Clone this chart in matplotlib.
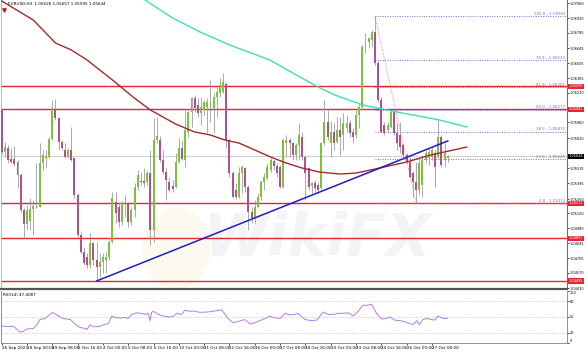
import numpy as np
import matplotlib.pyplot as plt
from matplotlib.patches import Ellipse
import matplotlib.transforms as mtransforms

# EURUSD H4, 26 Sep 2023 16:00 .. 27 Oct 2023
opens = [1.06073, 1.05685, 1.05722, 1.05620, 1.05620, 1.05593, 1.05473, 1.05150, 1.05020, 1.05048,
         1.05159, 1.05168, 1.05177, 1.05584, 1.05630, 1.05639, 1.05805, 1.06082, 1.05999, 1.05777,
         1.05704, 1.05639, 1.05704, 1.05630, 1.05288, 1.04919, 1.04762, 1.04716, 1.04642, 1.04845,
         1.04688, 1.04624, 1.04670, 1.04688, 1.04716, 1.04854, 1.05224, 1.05177, 1.05039, 1.05214,
         1.05214, 1.05039, 1.05150, 1.05362, 1.05417, 1.05417, 1.05408, 1.05491, 1.04965, 1.05796,
         1.05796, 1.05611, 1.05500, 1.05408, 1.05371, 1.05362, 1.05593, 1.05722, 1.05611, 1.05870,
         1.06054, 1.06183, 1.06119, 1.06045, 1.06073, 1.06100, 1.06091, 1.06091, 1.06193, 1.06230,
         1.06239, 1.06313, 1.05796, 1.05491, 1.05334, 1.05270, 1.05491, 1.05537, 1.05362, 1.05131,
         1.05076, 1.05177, 1.05270, 1.05408, 1.05445, 1.05519, 1.05602, 1.05556, 1.05547, 1.05362,
         1.05768, 1.05796, 1.05768, 1.05657, 1.05750, 1.05824, 1.05639, 1.05537, 1.05371, 1.05399,
         1.05380, 1.05353, 1.05768, 1.05962, 1.05768, 1.05870, 1.05777, 1.05888, 1.05842, 1.05907,
         1.05953, 1.05870, 1.05842, 1.06027, 1.06100, 1.06645, 1.06700, 1.06719, 1.06793, 1.06507,
         1.06165, 1.05934, 1.05888, 1.05916, 1.06054, 1.05860, 1.05842, 1.05750, 1.05657, 1.05593,
         1.05491, 1.05408, 1.05334, 1.05380, 1.05611, 1.05630, 1.05639, 1.05676, 1.05639, 1.05824,
         1.05611, 1.05626]
highs = [1.06091, 1.05777, 1.05750, 1.05722, 1.05740, 1.05611, 1.05491, 1.05168, 1.05196, 1.05260,
         1.05242, 1.05584, 1.05768, 1.05704, 1.05704, 1.05824, 1.06165, 1.06174, 1.06008, 1.05796,
         1.05768, 1.05722, 1.05916, 1.05639, 1.05307, 1.04947, 1.04808, 1.04753, 1.04938, 1.04854,
         1.04854, 1.04753, 1.04753, 1.04762, 1.04873, 1.05316, 1.05316, 1.05214, 1.05233, 1.05288,
         1.05224, 1.05177, 1.05399, 1.05519, 1.05500, 1.05537, 1.05519, 1.05704, 1.05999, 1.06008,
         1.05833, 1.05704, 1.05547, 1.05454, 1.05427, 1.05676, 1.05814, 1.05796, 1.06073, 1.06073,
         1.06193, 1.06211, 1.06183, 1.06193, 1.06165, 1.06183, 1.06350, 1.06230, 1.06285, 1.06368,
         1.06414, 1.06331, 1.05814, 1.05510, 1.05399, 1.05547, 1.05565, 1.05547, 1.05380, 1.05177,
         1.05242, 1.05307, 1.05427, 1.05491, 1.05584, 1.05630, 1.05611, 1.05584, 1.05565, 1.05814,
         1.05842, 1.05814, 1.05777, 1.05768, 1.05953, 1.05870, 1.05657, 1.05547, 1.05408, 1.05427,
         1.05408, 1.05777, 1.06165, 1.06073, 1.05971, 1.05953, 1.06008, 1.06008, 1.06045, 1.06027,
         1.05980, 1.05907, 1.06073, 1.06137, 1.06673, 1.06783, 1.06747, 1.06811, 1.06941, 1.06534,
         1.06193, 1.05962, 1.05962, 1.06073, 1.06073, 1.05953, 1.05962, 1.05768, 1.05676, 1.05639,
         1.05510, 1.05593, 1.05611, 1.05639, 1.05694, 1.05722, 1.05731, 1.05704, 1.05980, 1.05842,
         1.05768, 1.05657]
lows = [1.05667, 1.05639, 1.05584, 1.05584, 1.05556, 1.05353, 1.05131, 1.04891, 1.04965, 1.04965,
        1.04919, 1.05168, 1.05177, 1.05519, 1.05537, 1.05630, 1.05796, 1.05980, 1.05704, 1.05704,
        1.05630, 1.05630, 1.05602, 1.05260, 1.04901, 1.04744, 1.04642, 1.04614, 1.04614, 1.04642,
        1.04495, 1.04531, 1.04568, 1.04568, 1.04688, 1.04845, 1.05030, 1.04993, 1.05011, 1.05085,
        1.04993, 1.05011, 1.05085, 1.05334, 1.05380, 1.05362, 1.05380, 1.04827, 1.04854, 1.05768,
        1.05593, 1.05482, 1.05242, 1.05316, 1.05316, 1.05353, 1.05584, 1.05611, 1.05547, 1.05824,
        1.05916, 1.06054, 1.06008, 1.05934, 1.06027, 1.05860, 1.05962, 1.05860, 1.06008, 1.06193,
        1.06230, 1.05722, 1.05454, 1.05260, 1.05251, 1.05260, 1.05307, 1.05316, 1.04965, 1.05030,
        1.05030, 1.05168, 1.05242, 1.05334, 1.05427, 1.05500, 1.05519, 1.05454, 1.05353, 1.05353,
        1.05639, 1.05639, 1.05611, 1.05611, 1.05611, 1.05611, 1.05242, 1.05334, 1.05307, 1.05316,
        1.05307, 1.05334, 1.05750, 1.05796, 1.05639, 1.05704, 1.05768, 1.05657, 1.05704, 1.05870,
        1.05824, 1.05768, 1.05814, 1.05907, 1.06073, 1.06599, 1.06645, 1.06654, 1.06488, 1.06147,
        1.05860, 1.05842, 1.05860, 1.05907, 1.05842, 1.05704, 1.05676, 1.05630, 1.05584, 1.05445,
        1.05270, 1.05212, 1.05288, 1.05270, 1.05584, 1.05565, 1.05611, 1.05362, 1.05630, 1.05547,
        1.05547, 1.05595]
closes = [1.05685, 1.05731, 1.05611, 1.05593, 1.05574, 1.05473, 1.05150, 1.05020, 1.05150, 1.05159,
          1.05187, 1.05196, 1.05584, 1.05657, 1.05648, 1.05805, 1.06091, 1.05999, 1.05777, 1.05722,
          1.05639, 1.05704, 1.05611, 1.05288, 1.04919, 1.04762, 1.04661, 1.04642, 1.04845, 1.04688,
          1.04624, 1.04670, 1.04716, 1.04716, 1.04854, 1.05260, 1.05122, 1.05039, 1.05214, 1.05205,
          1.05039, 1.05150, 1.05362, 1.05473, 1.05408, 1.05399, 1.05491, 1.04965, 1.05796, 1.05833,
          1.05611, 1.05500, 1.05427, 1.05334, 1.05344, 1.05593, 1.05722, 1.05620, 1.05888, 1.06054,
          1.06183, 1.06091, 1.06045, 1.06100, 1.06147, 1.06147, 1.06147, 1.06193, 1.06239, 1.06303,
          1.06331, 1.05796, 1.05491, 1.05270, 1.05270, 1.05491, 1.05547, 1.05362, 1.05131, 1.05076,
          1.05177, 1.05270, 1.05408, 1.05454, 1.05547, 1.05611, 1.05556, 1.05491, 1.05362, 1.05796,
          1.05796, 1.05768, 1.05657, 1.05750, 1.05842, 1.05639, 1.05491, 1.05362, 1.05399, 1.05353,
          1.05334, 1.05768, 1.05962, 1.05824, 1.05870, 1.05768, 1.05888, 1.05824, 1.05953, 1.05953,
          1.05860, 1.05824, 1.06027, 1.06100, 1.06654, 1.06691, 1.06737, 1.06793, 1.06507, 1.06165,
          1.05870, 1.05860, 1.05934, 1.06054, 1.05860, 1.05768, 1.05731, 1.05657, 1.05593, 1.05454,
          1.05408, 1.05334, 1.05584, 1.05611, 1.05676, 1.05685, 1.05704, 1.05547, 1.05824, 1.05565,
          1.05676, 1.05644]

# moving averages (bar index, price)
ma_slow_x = [0, 10, 17, 22, 27, 35, 41.5, 47, 55, 61, 66, 70.5, 75, 85, 90, 95, 100.5, 107, 112, 118, 128, 135.5, 147]
ma_slow_y = [1.07079, 1.06903, 1.06691, 1.06627, 1.06534, 1.06350, 1.06193, 1.06073, 1.05943, 1.05870,
             1.05842, 1.05796, 1.05768, 1.05639, 1.05583, 1.05537, 1.05500, 1.05482, 1.05491, 1.05528,
             1.05593, 1.05657, 1.05731]
ma_200_x = [43.5, 45.3, 54, 62.7, 72, 84.8, 94.3, 100.6, 105.3, 114.2, 125, 138.5, 147]
ma_200_y = [1.0712, 1.07088, 1.06922, 1.06793, 1.06673, 1.06534, 1.06377, 1.06276, 1.06211, 1.06119,
            1.06054, 1.05980, 1.05916]

# trendline and levels
trend_x = [30, 141]
trend_y = [1.04495, 1.05787]
red_levels = [1.06290, 1.06081, 1.05212, 1.04891, 1.04495]
fib_ratios = ["100.0", "76.4", "61.8", "50.0", "38.2", "23.6", "0.0"]
fib_prices = [1.06941, 1.06533, 1.06281, 1.06077, 1.05872, 1.05620, 1.05212]
fib_start, fib_end = 118, 131
last_price = 1.05644

price_ticks = [1.07060, 1.06920, 1.06785, 1.06645, 1.06505, 1.06365, 1.06230, 1.05960, 1.05810,
               1.05535, 1.05395, 1.05250, 1.05120, 1.04980, 1.04845, 1.04705, 1.04570, 1.04430]

# RSI(14)
rsi_x = [0, 1.6, 3.7, 5.8, 6.8, 7.9, 10, 11, 12.1, 13.7, 14.7, 16, 17.4, 19, 20.5, 21.8, 23.2, 24.7,
         26.3, 27, 27.9, 29, 31, 32.6, 33.7, 34.8, 35.8, 37.4, 39, 40, 41.1, 42.7, 44.2, 45.3, 46.3,
         46.9, 47.4, 48, 49.5, 51, 52.7, 54.2, 55.3, 56.9, 57.9, 59.5, 60.6, 62.7, 64.8, 66.9, 69.5,
         71.6, 73.2, 75.3, 76.9, 78.5, 80, 81.6, 83.2, 84.8, 85.8, 88, 89.5, 91.1, 92.7, 93.7, 95.9,
         98, 99.6, 101.6, 103.2, 104.8, 106.4, 108, 109.5, 111.1, 112.7, 114.1, 115.6, 116.9, 118.5,
         120.1, 121.5, 122.7, 124.3, 125.9, 127.5, 129, 130.1, 131.2, 132, 133.1, 134.3, 135.9,
         136.9, 138, 139.6, 141]
rsi_vals = [33, 31.5, 32, 21, 22, 27, 28, 34, 45, 47, 52, 58.6, 54, 48, 46, 45, 36.5, 30,
            28, 26, 35, 31, 32, 36, 37, 51.7, 49, 48, 49, 47, 55, 58, 57, 55, 57,
            43, 59, 61, 55, 52, 50, 51, 57, 55, 63, 61, 61.5, 59, 59.5, 61, 64,
            47, 39, 42.5, 45, 36.5, 39, 43, 47, 52, 49, 47, 57, 54, 55, 57, 45,
            43, 44, 59.6, 55, 55, 57, 57, 58, 52, 61, 72.5, 72.5, 74.5, 57,
            46, 47, 50, 44, 43, 41, 37, 35.7, 43, 35, 45, 47, 45,
            44, 52, 47, 47.4]

date_labels = ["26 Sep 2023", "28 Sep 00:00", "29 Sep 08:00", "2 Oct 16:00", "4 Oct 00:00",
               "5 Oct 08:00", "6 Oct 16:00", "10 Oct 00:00", "11 Oct 08:00", "12 Oct 16:00",
               "16 Oct 00:00", "17 Oct 08:00", "18 Oct 16:00", "20 Oct 00:00", "23 Oct 08:00",
               "24 Oct 16:00", "26 Oct 00:00", "27 Oct 08:00"]

W, H = 585, 353
fig = plt.figure(figsize=(W / 100, H / 100), dpi=100)
ax = fig.add_axes([1 / W, 1 - 289 / H, 566 / W, 289 / H])
rsi_ax = fig.add_axes([1 / W, 1 - 343 / H, 566 / W, 52 / H], sharex=ax)

fs = 3.0      # general small text
fs_r = 2.5    # right-hand price scale
ax.set_xlim(-0.22, 178.7)
ax.set_ylim(1.04421, 1.07088)

# watermark
ax.add_patch(Ellipse((0.31, 0.14), 0.12, 0.28, transform=ax.transAxes,
                     facecolor="#f6e6b4", alpha=0.22, edgecolor="none", zorder=0))
ax.text(0.56, 0.17, "WikiFX", transform=ax.transAxes, fontsize=42, fontweight="bold",
        style="italic", color="#8c8c8c", alpha=0.09, ha="center", va="center", zorder=0)

# levels
for lv in red_levels:
    ax.axhline(lv, color="#e5262c", lw=1.0, zorder=2)
ax.axhline(last_price, color="#c8c8c8", lw=0.6, zorder=1)

for r, p in zip(fib_ratios, fib_prices):
    ax.plot([fib_start, 178.7], [p, p], color="#6f6fd6", lw=0.7, ls=(0, (1, 1.5)), zorder=2)
    ax.text(178.2, p + 0.00003, f"{r} - {p:.5f}", color="#6f6fd6", fontsize=fs - 0.1,
            ha="right", va="bottom", zorder=5)
ax.plot([fib_start, fib_end], [fib_prices[0], fib_prices[-1]], color="#e878b0",
        lw=0.7, ls=(0, (1, 1.5)), zorder=2)

# candles
idx = np.arange(len(closes))
o = np.array(opens)
c = np.array(closes)
bull = c >= o
ax.vlines(idx, lows, highs, color="#9c9c9c", lw=0.6, zorder=3)
body_h = np.maximum(np.abs(c - o), 0.00003)
ax.bar(idx, body_h, bottom=np.minimum(o, c), width=0.62,
       color=np.where(bull, "#7cc23b", "#b4508c"), zorder=4, linewidth=0)

# indicators
ax.plot(ma_slow_x, ma_slow_y, color="#a32a2a", lw=1.0, zorder=5)
ax.plot(ma_200_x, ma_200_y, color="#3ee0b2", lw=1.0, zorder=5)
ax.plot(trend_x, trend_y, color="#1d1dc8", lw=1.1, zorder=6)

# right price scale
ax.yaxis.tick_right()
ax.set_yticks(price_ticks)
ax.set_yticklabels([f"{p:.5f}" for p in price_ticks])
ax.tick_params(axis="y", labelsize=fs_r, length=1.5, width=0.5, pad=0.5, colors="black")
ax.tick_params(axis="x", bottom=False, labelbottom=False)

tr = mtransforms.blended_transform_factory(ax.transAxes, ax.transData)
for lv in red_levels:
    ax.text(1.003, lv, f"{lv:.5f}", transform=tr, fontsize=fs_r, color="white", ha="left",
            va="center", bbox=dict(boxstyle="square,pad=0.15", fc="#e5262c", ec="none"), zorder=7,
            clip_on=False)
ax.text(1.003, last_price, f"{last_price:.5f}", transform=tr, fontsize=fs_r, color="white",
        ha="left", va="center", bbox=dict(boxstyle="square,pad=0.15", fc="black", ec="none"),
        zorder=7, clip_on=False)

ax.spines["top"].set_visible(False)
ax.spines["left"].set_color("#b0b0b0")
ax.spines["left"].set_linewidth(0.6)
ax.spines["right"].set_color("#707070")
ax.spines["right"].set_linewidth(0.8)
ax.spines["bottom"].set_color("#555555")
ax.spines["bottom"].set_linewidth(1.6)

ax.text(0.012, 0.993, "EURUSD,H4  1.05626 1.05657 1.05595 1.05644", transform=ax.transAxes,
        fontsize=fs, ha="left", va="top", color="black")
ax.plot([0.8], [1.0700], marker="v", color="#c02020", ms=2.5, zorder=8, clip_on=False)

# RSI panel
rsi_ax.set_ylim(0, 100)
for lv in [80, 50, 20]:
    rsi_ax.axhline(lv, color="#c0c0c0", lw=0.5, ls=(0, (2, 2)))
rsi_ax.plot(rsi_x, rsi_vals, color="#b57ce6", lw=0.7)
rsi_ax.yaxis.tick_right()
rsi_ax.set_yticks([100, 80, 50, 20, 0])
rsi_ax.set_yticklabels(["100", "80", "50", "20", "0"])
rsi_ax.tick_params(axis="y", labelsize=fs_r, length=1.5, width=0.5, pad=0.5)
ylabs = rsi_ax.get_yticklabels()
ylabs[0].set_va("top")
ylabs[-1].set_va("bottom")
rsi_ax.set_xticks(np.arange(0, 137, 8))
rsi_ax.set_xticklabels(date_labels, ha="left")
rsi_ax.tick_params(axis="x", labelsize=fs, length=1.5, width=0.5, pad=1)
rsi_ax.text(0.004, 0.96, "RSI(14) 47.4087", transform=rsi_ax.transAxes, fontsize=fs,
            ha="left", va="top")
rsi_ax.spines["top"].set_visible(False)
for s in ["left", "right", "bottom"]:
    rsi_ax.spines[s].set_color("#808080")
    rsi_ax.spines[s].set_linewidth(0.6)

fig.savefig("out.png", dpi=100, facecolor="white")
